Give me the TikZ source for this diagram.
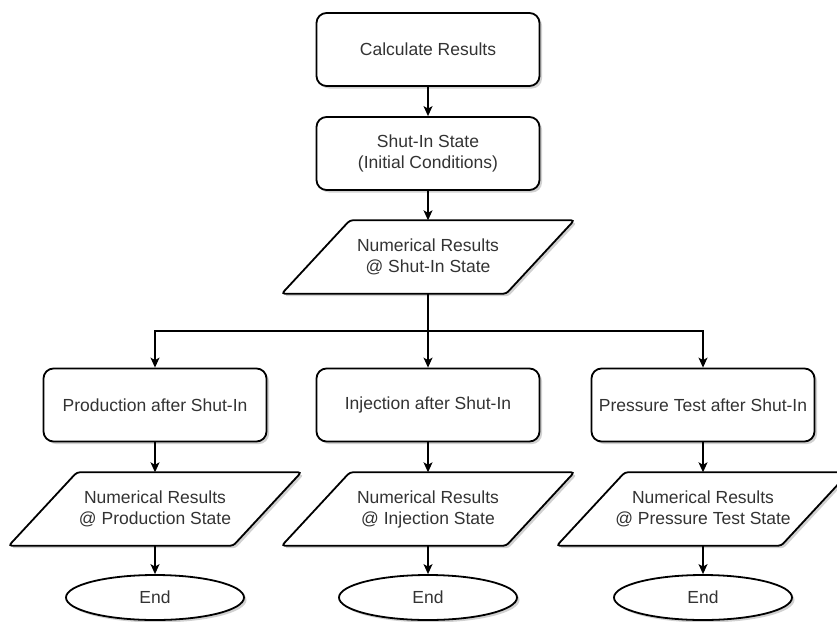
\documentclass[tikz,border=0pt]{standalone}
\usepackage{fontspec}
\setmainfont{Liberation Sans}
\usetikzlibrary{arrows.meta,shapes.geometric,shadows,calc}
\pgfdeclarelayer{background}
\pgfsetlayers{background,main}
\definecolor{inkgray}{gray}{0.2}

\tikzset{
  labeltext/.style={text=inkgray, font=\fontsize{17.5}{21}\selectfont, align=center, inner sep=2pt},
  softshadow/.style={drop shadow={shadow xshift=2.5pt, shadow yshift=-2.5pt, opacity=0.18, fill=black}},
  procbox/.style={labeltext, draw, line width=1.8pt, fill=white, rectangle, rounded corners=10pt,
                  minimum width=223pt, minimum height=73pt, softshadow},
  iobody/.style={labeltext, rectangle, minimum width=224pt, minimum height=73pt},
  ioframe/.style={draw, line width=1.8pt, fill=white, rounded corners=3pt, softshadow},
  endcap/.style={labeltext, draw, line width=1.8pt, fill=white, ellipse,
                 minimum width=178pt, minimum height=45pt, softshadow},
  flow/.style={line width=1.3pt, -{Stealth[length=10pt,width=9pt,inset=2.5pt]}},
}

% slanted data frame drawn behind a named text node
\newcommand{\dataframe}[1]{%
  \begin{pgfonlayer}{background}
    \path[ioframe] ($(#1.north west)+(34,0)$) -- ($(#1.north east)+(34,0)$)
      -- ($(#1.south east)-(34,0)$) -- ($(#1.south west)-(34,0)$) -- cycle;
  \end{pgfonlayer}}

\begin{document}
\begin{tikzpicture}[x=1pt, y=-1pt]
  \clip (0,0) rectangle (837,621);

  % main chain
  \node[procbox] (calc) at (428,49.5) {Calculate Results};
  \node[procbox] (shut) at (428,153.5) {Shut-In State\\(Initial Conditions)};
  \node[iobody]  (res0) at (428,257) {Numerical Results\\@ Shut-In State};
  \dataframe{res0}

  \coordinate (split) at (428,331);

  % three branches
  \node[procbox] (prod) at (155,405) {Production after Shut-In};
  \node[procbox] (inj)  at (428,405) {Injection after Shut-In};
  \node[procbox] (test) at (703,405) {Pressure Test after Shut-In};

  \node[iobody] (resP) at (155,509) {Numerical Results\\@ Production State};
  \node[iobody] (resI) at (428,509) {Numerical Results\\@ Injection State};
  \node[iobody] (resT) at (703,509) {Numerical Results\\@ Pressure Test State};
  \dataframe{resP}
  \dataframe{resI}
  \dataframe{resT}

  \node[endcap] (endP) at (155,597.5) {End};
  \node[endcap] (endI) at (428,597.5) {End};
  \node[endcap] (endT) at (703,597.5) {End};

  % connectors
  \draw[flow] (calc) -- (shut);
  \draw[flow] (shut) -- (res0);
  \draw[flow] (res0.south) -- (split) -| (prod.north);
  \draw[flow] (split) -| (test.north);
  \draw[flow] (split) -- (inj.north);

  \draw[flow] (prod) -- (resP);
  \draw[flow] (inj)  -- (resI);
  \draw[flow] (test) -- (resT);
  \draw[flow] (resP) -- (endP);
  \draw[flow] (resI) -- (endI);
  \draw[flow] (resT) -- (endT);
\end{tikzpicture}
\end{document}
